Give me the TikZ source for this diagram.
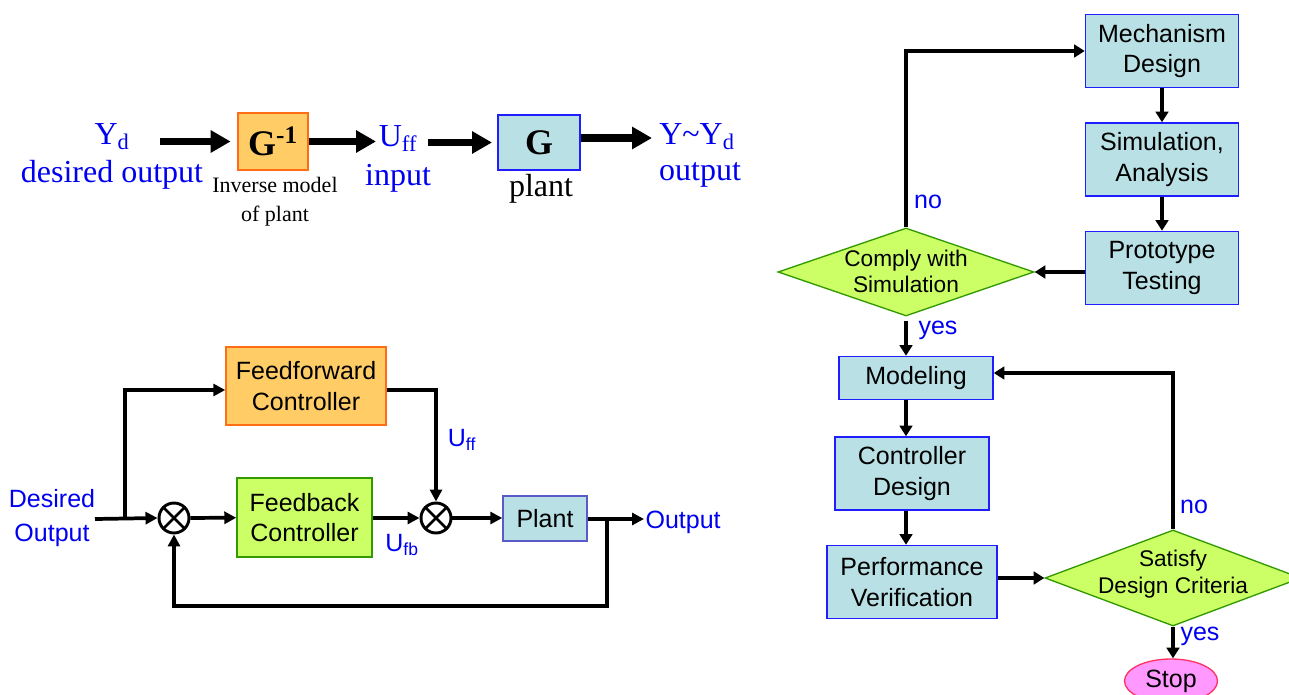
\documentclass[tikz,border=0pt]{standalone}
\usepackage{fontspec}
\setmainfont{Liberation Sans}
\newfontfamily\tmsfont{Liberation Serif}
\usetikzlibrary{arrows.meta,shapes.geometric,calc}
\definecolor{txtblue}{RGB}{0,0,240}
\definecolor{boxblue}{RGB}{185,224,228}
\definecolor{bordblue}{RGB}{30,30,255}
\definecolor{ffill}{RGB}{255,204,102}
\definecolor{fbord}{RGB}{255,110,20}
\definecolor{gfill}{RGB}{204,255,102}
\definecolor{gbord}{RGB}{51,153,0}
\definecolor{pfill}{RGB}{255,153,255}
\definecolor{pbord}{RGB}{255,51,102}
\definecolor{plbord}{RGB}{90,90,200}
\begin{document}
\begin{tikzpicture}[x=0.75pt,y=-0.75pt,
  tblue/.style={font={\tmsfont\fontsize{24pt}{29pt}\selectfont}, text=txtblue, inner sep=0pt},
  tblack/.style={font={\tmsfont\fontsize{24pt}{29pt}\selectfont}, text=black, inner sep=0pt},
  tsmall/.style={font={\tmsfont\fontsize{16.5pt}{22pt}\selectfont}, align=center, inner sep=1pt},
  sblue/.style={font={\fontsize{18.75pt}{25pt}\selectfont}, text=txtblue, align=center, inner sep=1pt},
  sbox/.style={font={\fontsize{18.75pt}{23pt}\selectfont}, align=center, inner sep=0pt, line width=1.1pt},
  fbox/.style={sbox, draw=bordblue, fill=boxblue, minimum width=115pt, minimum height=54.75pt},
  dia/.style={diamond, draw=gbord, fill=gfill, line width=1pt, inner sep=0pt},
  dtext/.style={font={\fontsize{17pt}{20pt}\selectfont}, align=center, inner sep=0pt},
  sumnode/.style={circle, draw, line width=2.2pt, minimum size=22.5pt, inner sep=0pt,
    path picture={\draw[line width=2pt] (path picture bounding box.north west) -- (path picture bounding box.south east)
      (path picture bounding box.north east) -- (path picture bounding box.south west);}},
  arrT/.style={line width=5.5pt, -{Triangle[length=15pt,width=16pt]}},
  arr/.style={line width=2.8pt, -{Triangle[length=9pt,width=9pt]}},
  farr/.style={line width=3pt, -{Triangle[length=8pt,width=9.5pt]}},
  lbl/.style={font={\fontsize{18.75pt}{22pt}\selectfont}, text=txtblue, inner sep=1pt}
]
\path[use as bounding box] (0,0) rectangle (1289,695);
\clip (0,0) rectangle (1289,695);

% ---------- top: inverse model ----------
\node[tblue] (yd) at (112,137) {Y\textsubscript{d}};
\node[tblue] (ydl) at (112,175) {desired output};
\node[draw=fbord, fill=ffill, line width=1pt, minimum width=52.5pt, minimum height=42.75pt, inner sep=0pt,
      font={\tmsfont\fontsize{27pt}{30pt}\selectfont}] (ginv) at (273,141.5) {\textbf{G\textsuperscript{-1}}};
\node[tsmall] (ginvl) at (275,202) {Inverse model\\of plant};
\node[tblue] (uff) at (398,139) {U\textsubscript{ff}};
\node[tblue] (uffl) at (398,178) {input};
\node[draw=bordblue, fill=boxblue, line width=1pt, minimum width=61.5pt, minimum height=41.25pt, inner sep=0pt,
      font={\tmsfont\fontsize{27pt}{30pt}\selectfont}] (g) at (539,142.5) {\textbf{G}};
\node[tblack] (gl) at (541,189) {plant};
\node[tblue] (yy) at (697,137) {Y\textasciitilde Y\textsubscript{d}};
\node[tblue] (yyl) at (700,175) {output};

\coordinate (t1) at (160,141.5);
\coordinate (t2) at (376,141.5);
\coordinate (t3) at (428,142.5);
\coordinate (t4) at (652,138);
\draw[arrT, shorten >=5pt] (t1) -- (ginv.west);
\draw[arrT] (ginv.east) -- (t2);
\draw[arrT, shorten >=4pt] (t3) -- (g.west);
\draw[arrT] (g.east |- t4) -- (t4);

% ---------- bottom left: feedforward + feedback ----------
\node[sblue] (din) at (52,518) {Desired\\Output};
\node[sbox, draw=fbord, fill=ffill, minimum width=120pt, minimum height=58.5pt] (ff) at (306,386) {Feedforward\\Controller};
\node[sbox, draw=gbord, fill=gfill, minimum width=101.25pt, minimum height=59.25pt] (fb) at (304.5,517.5) {Feedback\\Controller};
\node[sbox, draw=plbord, fill=boxblue, minimum width=63pt, minimum height=33.75pt] (plant) at (545,518.5) {Plant};
\node[sumnode] (s1) at (174,518) {};
\node[sumnode] (s2) at (436,518) {};
\node[sblue, anchor=west] (out) at (644,522) {Output};
\node[lbl] (luff) at (462,440) {U\textsubscript{ff}};
\node[lbl] (lufb) at (402,545) {U\textsubscript{fb}};

\coordinate (in) at (95,519);
\coordinate (br) at (125,519);
\coordinate (fbk) at (607,519);
\draw[arr] (in) -- (s1.west);
\draw[arr] (br) |- ([yshift=-3pt]ff.west);
\draw[arr] (s1) -- (fb);
\draw[arr] (fb.east |- s2) -- (s2.west);
\draw[arr] ([yshift=-3pt]ff.east) -| (s2.north);
\draw[arr] (s2) -- (plant.west |- s2);
\draw[arr] (plant.east |- fbk) -- (out.west |- fbk);
\draw[arr] (fbk) -- ++(0,87) -| (s1.south);

% ---------- right: flowchart ----------
\node[fbox, minimum width=114.75pt] (mech) at (1162,51) {Mechanism\\Design};
\node[fbox, minimum width=114.75pt] (sim) at (1162,159.5) {Simulation,\\Analysis};
\node[fbox, minimum width=114.75pt] (proto) at (1162,268) {Prototype\\Testing};
\node[dia, minimum width=192pt, minimum height=66pt,
      label={[dtext, yshift=0.5pt]center:Comply with\\Simulation}] (comply) at (906,272) {};
\node[fbox, minimum width=115.5pt, minimum height=32.25pt] (model) at (916,378) {Modeling};
\node[fbox, minimum width=115.5pt] (ctrl) at (912,473.5) {Controller\\Design};
\node[fbox, minimum width=127.5pt] (perf) at (912,582) {Performance\\Verification};
\node[dia, minimum width=192pt, minimum height=72pt,
      label={[dtext, yshift=3pt]center:Satisfy\\Design Criteria}] (sat) at (1173,578) {};
\node[ellipse, draw=pbord, fill=pfill, line width=1pt, minimum width=69.75pt, minimum height=33pt, inner sep=0pt,
      font={\fontsize{18.75pt}{22pt}\selectfont}] (stop) at (1171,681) {Stop};

\node[lbl] (lno1) at (928,202) {no};
\node[lbl] (lyes1) at (938,330) {yes};
\node[lbl] (lno2) at (1194,507) {no};
\node[lbl] (lyes2) at (1200,636) {yes};

\draw[farr] (mech) -- (sim);
\draw[farr] (sim) -- (proto);
\draw[farr] (proto.west |- comply) -- (comply.east);
\draw[farr] (comply.north) |- (mech.west);
\draw[farr] ([yshift=-3pt]comply.south) -- (comply.south |- model.north);
\draw[farr] (model.south -| comply.south) -- (comply.south |- ctrl.north);
\draw[farr] (ctrl.south -| comply.south) -- (comply.south |- perf.north);
\draw[farr] (perf.east |- sat) -- (sat.west);
\draw[farr] (sat.north) |- ([yshift=3.75pt]model.east);
\draw[farr] (sat.south) -- (sat.south |- stop.north);
\end{tikzpicture}
\end{document}
